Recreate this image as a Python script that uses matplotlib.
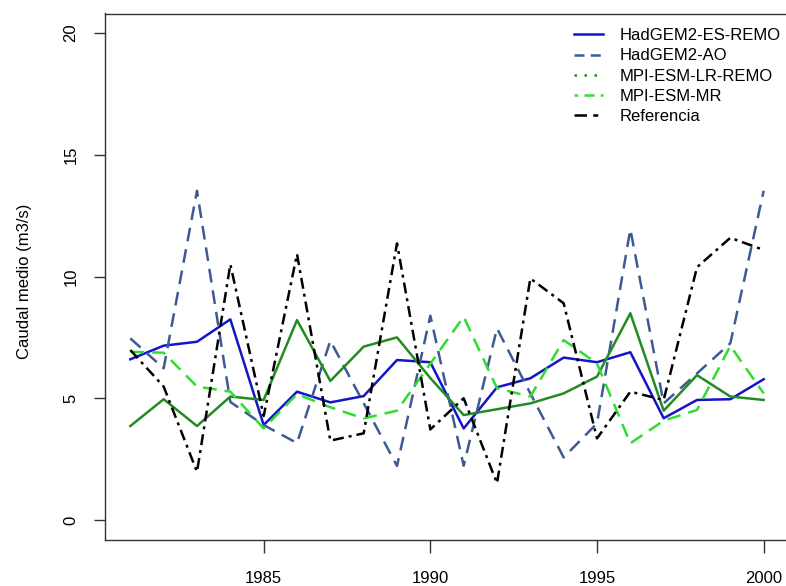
import matplotlib
matplotlib.use("Agg")
import matplotlib.pyplot as plt
from matplotlib.lines import Line2D

years = list(range(1981, 2001))
hadgem2_es_remo = [6.60, 7.16, 7.32, 8.24, 3.90, 5.27, 4.83, 5.09, 6.57, 6.48,
                   3.76, 5.45, 5.82, 6.67, 6.48, 6.89, 4.18, 4.93, 4.96, 5.78]
hadgem2_ao = [7.46, 6.23, 13.52, 4.85, 3.90, 3.16, 7.36, 4.80, 2.22, 8.39,
              2.23, 7.87, 5.20, 2.57, 3.97, 11.94, 4.79, 6.02, 7.26, 13.52]
mpi_esm_lr_remo = [3.86, 4.96, 3.86, 5.07, 4.93, 8.21, 5.71, 7.12, 7.50, 5.83,
                   4.31, 4.55, 4.79, 5.20, 5.89, 8.49, 4.49, 5.95, 5.07, 4.93]
mpi_esm_mr = [6.91, 6.87, 5.48, 5.27, 3.76, 5.17, 4.63, 4.17, 4.49, 6.42,
              8.35, 5.41, 5.07, 7.39, 6.43, 3.15, 4.08, 4.52, 7.15, 5.20]
referencia = [6.98, 5.48, 1.98, 10.50, 4.27, 10.92, 3.26, 3.56, 11.36, 3.72,
              5.00, 1.51, 9.92, 8.90, 3.35, 5.27, 4.93, 10.38, 11.59, 11.09]

labels = ["HadGEM2-ES-REMO", "HadGEM2-AO", "MPI-ESM-LR-REMO", "MPI-ESM-MR", "Referencia"]
xticks = [1985, 1990, 1995, 2000]
yticks = [0, 5, 10, 15, 20]

plt.rcParams['font.family'] = ['Liberation Sans', 'DejaVu Sans']

W, H = 786, 586
fig = plt.figure(figsize=(W / 100, H / 100), dpi=100)
ax = fig.add_axes([105 / W, (H - 539.5) / H, 684 / W, 526 / H])

c_blue = "#1414C8"
c_slate = "#3E5A94"
c_dgreen = "#228B22"
c_lgreen = "#2EDD2E"
lw = 1.8

ax.plot(years, hadgem2_es_remo, color=c_blue, lw=lw, linestyle='-')
ax.plot(years, hadgem2_ao, color=c_slate, lw=lw, linestyle=(0, (5.5, 3.2)))
ax.plot(years, mpi_esm_lr_remo, color=c_dgreen, lw=lw, linestyle='-')
ax.plot(years, mpi_esm_mr, color=c_lgreen, lw=lw, linestyle=(0, (5.5, 3.2)))
ax.plot(years, referencia, color='black', lw=lw, linestyle=(0, (4.4, 2.0, 1.2, 2.0)))

ax.set_xlim(1980.24, 2000.76)
ax.set_ylim(-0.8, 20.8)
ax.set_xticks(xticks)
ax.set_xticklabels([str(v) for v in xticks])
ax.set_yticks(yticks)
ax.set_yticklabels([str(v) for v in yticks], rotation=90, va='center')
ax.tick_params(axis='x', length=9, width=1, color='#333333', labelsize=12, pad=14)
ax.tick_params(axis='y', length=8, width=1, color='#333333', labelsize=12, pad=11)
for s in ax.spines.values():
    s.set_color('#333333')
    s.set_linewidth(1.0)

ax.set_ylabel("Caudal medio (m3/s)", fontsize=12)
ax.yaxis.set_label_coords(-(105 - 32) / 684, 0.49)

handles = [
    Line2D([], [], color=c_blue, lw=lw, linestyle='-'),
    Line2D([], [], color=c_slate, lw=lw, linestyle=(0, (4.0, 2.5))),
    Line2D([], [], color=c_dgreen, lw=lw, linestyle=(0, (1.0, 3.0))),
    Line2D([], [], color=c_lgreen, lw=lw, linestyle=(0, (1.5, 2.5, 4.0, 2.5))),
    Line2D([], [], color='black', lw=lw, linestyle=(0, (5.0, 2.5, 2.0, 2.5))),
]
fig.legend(handles, labels, loc='upper left', bbox_to_anchor=(574 / W, 1 - 28 / H),
           frameon=False, fontsize=12, handlelength=1.75, handletextpad=1.0,
           labelspacing=0.32, borderpad=0, borderaxespad=0)

fig.savefig("out.png", dpi=100)
